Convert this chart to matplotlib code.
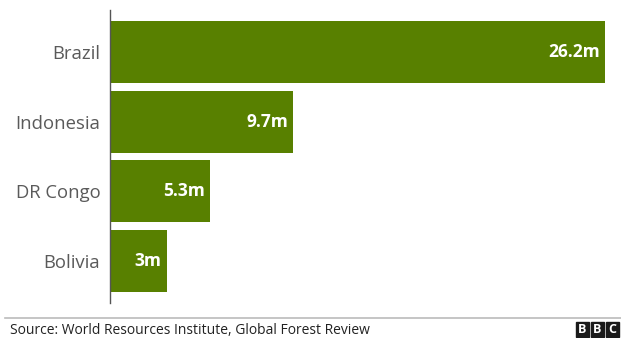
import matplotlib.pyplot as plt
from matplotlib.patches import Rectangle

countries = ['Brazil', 'Indonesia', 'DR Congo', 'Bolivia']
loss = [26.2, 9.7, 5.3, 3]
labels = ['26.2m', '9.7m', '5.3m', '3m']

green = '#588000'
plt.rcParams['font.family'] = ['Open Sans', 'DejaVu Sans']

fig = plt.figure(figsize=(6.21, 3.38), dpi=100)
ax = fig.add_axes([110 / 621, 35 / 338, 495 / 621, 293 / 338])

ypos = range(len(countries))
ax.barh(ypos, loss, height=0.89, color=green)
for y, v, t in zip(ypos, loss, labels):
    ax.text(v - 0.27, y, t, ha='right', va='center', color='white',
            fontsize=12.5, fontweight='bold')

ax.set_xlim(0, max(loss))
ax.set_ylim(3.6, -0.6)
ax.set_yticks(list(ypos))
ax.set_yticklabels(countries, fontsize=13.3, color='#5a5a5a')
ax.tick_params(axis='y', length=0, pad=7)
ax.set_xticks([])
for s in ['top', 'right', 'bottom']:
    ax.spines[s].set_visible(False)
ax.spines['left'].set_color('#555555')
ax.spines['left'].set_linewidth(1)

# footer rule, source and logo
fig.add_artist(plt.Line2D([5 / 621, 1], [1 - 318 / 338] * 2, color='#bbbbbb', lw=1.2))
fig.text(10 / 621, 1 - 330 / 338, 'Source: World Resources Institute, Global Forest Review',
         fontsize=10, color='#222222', va='center')
for i, ch in enumerate('BBC'):
    x0 = (576 + i * 15) / 621
    fig.add_artist(Rectangle((x0, 1 - 337 / 338), 13 / 621, 15 / 338,
                             transform=fig.transFigure, color='#1a1a1a'))
    fig.text(x0 + 6.5 / 621, 1 - 329.5 / 338, ch, color='white', fontsize=9,
             fontweight='bold', ha='center', va='center')

fig.savefig('out.png', dpi=100)
